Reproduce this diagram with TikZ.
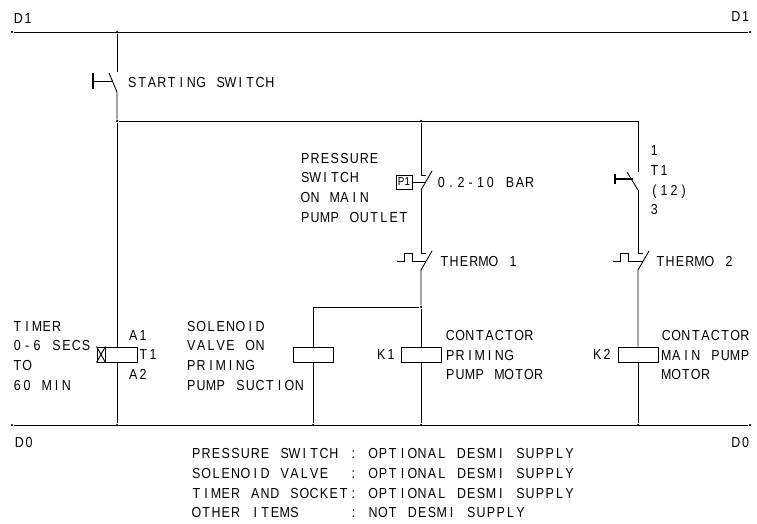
\documentclass[tikz,border=0pt]{standalone}
\usepackage{fontspec}
\setmainfont[FakeStretch=0.86]{Liberation Sans}
% every character sits in a slot of its own, spaces written as ~
\makeatletter
\newcommand{\cad}[1]{\@tfor\cadchar:=#1\do{\makebox[9.82pt]{\cadchar}}}
\makeatother
\begin{document}
\begin{tikzpicture}[x=1pt, y=-1pt, line width=0.9pt, font=\fontsize{14.5}{19.6}\selectfont,
    coil/.style = {draw, rectangle, minimum width=40pt, minimum height=15pt, inner sep=0pt},
    junction/.style = {circle, fill, inner sep=0pt, minimum size=2.5pt},
    label/.style = {anchor=west, align=left, inner sep=0pt, yshift=-0.8pt}]
    \useasboundingbox (0,0) rectangle (757,524);
    % rails
    \node[junction] (d1l) at (12,32) {};
    \node[junction] (d1r) at (750,32) {};
    \node[junction] (d1a) at (117,32) {};
    \node[junction] (d0l) at (12,425) {};
    \node[junction] (d0r) at (750,425) {};
    \node[junction] (d0a) at (117,425) {};
    \node[junction] (d0b) at (313,425) {};
    \node[junction] (d0c) at (421,425) {};
    \node[junction] (d0d) at (638,425) {};
    \node[junction] (top) at (117,121) {};
    \node[junction] (topb) at (421,121) {};
    \coordinate (topc) at (638,121);
    \node[junction] (feed) at (421,307) {};
    \coordinate (feedb) at (313,307);
    \draw (d1l) -- (d1r);
    \draw (d0l) -- (d0r);
    \draw (top) -- (topc);

    % coils
    \node[coil] (t1) at (117,354.5) {};
    \node[coil] (sol) at (313,354.5) {};
    \node[coil] (k1) at (421,354.5) {};
    \node[coil] (k2) at (638,354.5) {};
    \node[draw, rectangle, minimum width=8pt, minimum height=15pt, inner sep=0pt, anchor=west] (t1x) at (t1.west) {};
    \draw (t1x.north west) -- (t1x.south east);
    \draw (t1x.south west) -- (t1x.north east);

    % starting switch
    \coordinate (s1a) at (117,72);
    \coordinate (s1b) at (117,92);
    \coordinate (s1c) at (109,73);
    \coordinate (s1d) at (113,81);
    \coordinate (s1e) at (93,81);
    \draw (d1a) -- (s1a);
    \draw (s1c) -- (s1b) -- (top);
    \draw (s1d) -- (s1e);
    \draw[line width=1.6pt] (93,73) -- (93,89);
    \draw (top) -- (t1);
    \draw (t1) -- (d0a);

    % pressure switch
    \node[draw, rectangle, inner sep=0pt, minimum width=16pt, minimum height=14pt, font=\fontsize{11.5}{11}\selectfont] (p1) at (404,182) {P1};
    \coordinate (p1a) at (421,175);
    \coordinate (p1b) at (421,190);
    \draw (topb) -- (p1a) -- ++(5,0);
    \draw (432,171) -- (p1b);
    \draw (p1) -- (426,182);

    % thermo 1
    \coordinate (th1a) at (421,253);
    \coordinate (th1b) at (421,270);
    \draw (p1b) -- (th1a) -- ++(5,0);
    \draw (432,251) -- (th1b) -- (feed);
    \draw (397,261) -- (404,261) -- (404,253) -- (412,253) -- (412,261) -- (426,261);
    \draw (feed) -- (k1);
    \draw (k1) -- (d0c);
    \draw (feed) -- (feedb) -- (sol);
    \draw (sol) -- (d0b);

    % timer contact
    \coordinate (c2a) at (638,172);
    \coordinate (c2b) at (638,190);
    \draw (topc) -- (c2a);
    \draw (627,172) -- (c2b);
    \draw[line width=1.2pt] (633,179) -- (615,179);
    \draw[line width=1.8pt] (615,174) -- (615,184);

    % thermo 2
    \coordinate (th2a) at (638,253);
    \coordinate (th2b) at (638,270);
    \draw (c2b) -- (th2a) -- ++(5,0);
    \draw (649,251) -- (th2b) -- (k2);
    \draw (613,261) -- (620,261) -- (620,253) -- (628,253) -- (628,261) -- (643,261);
    \draw (k2) -- (d0d);

    % labels
    \node[label] (d1left) at (13,18) {\cad{D1}};
    \node[label, anchor=east] (d1right) at (751,16) {\cad{D1}};
    \node[label] (d0left) at (14,442) {\cad{D0}};
    \node[label, anchor=east] (d0right) at (751,442) {\cad{D0}};
    \node[label] (startlabel) at (127,82) {\cad{STARTING~SWITCH}};
    \node[label] (preslabel) at (300,187) {\cad{PRESSURE}\\\cad{SWITCH}\\\cad{ON~MAIN}\\\cad{PUMP~OUTLET}};
    \node[label] (barlabel) at (436,182) {\cad{0.2-10~BAR}};
    \node[label] (th1label) at (439,261) {\cad{THERMO~1}};
    \node[label] (th2label) at (655,261) {\cad{THERMO~2}};
    \node[label] (contlabel) at (649,179.5) {\cad{1}\\\cad{T1}\\\cad{(12)}\\\cad{3}};
    \node[label] (timerlabel) at (12,355) {\cad{TIMER}\\\cad{0-6~SECS}\\\cad{TO}\\\cad{60~MIN}};
    \node[label] (a1label) at (128,335) {\cad{A1}};
    \node[label] (t1label) at (138,354) {\cad{T1}};
    \node[label] (a2label) at (128,374) {\cad{A2}};
    \node[label] (sollabel) at (186,355) {\cad{SOLENOID}\\\cad{VALVE~ON}\\\cad{PRIMING}\\\cad{PUMP~SUCTION}};
    \node[label] (k1label) at (376,354) {\cad{K1}};
    \node[label] (k2label) at (592,354) {\cad{K2}};
    \node[label] (k1text) at (445,354.5) {\cad{CONTACTOR}\\\cad{PRIMING}\\\cad{PUMP~MOTOR}};
    \node[label] (k2text) at (661,354.5) {\cad{CONTACTOR}\\\cad{MAIN~PUMP}\\\cad{MOTOR}};

    % supply list
    \node[label] (supply) at (191,482.5) {\cad{PRESSURE~SWITCH~:~OPTIONAL~DESMI~SUPPLY}\\\cad{SOLENOID~VALVE~~:~OPTIONAL~DESMI~SUPPLY}\\\cad{TIMER~AND~SOCKET:~OPTIONAL~DESMI~SUPPLY}\\\cad{OTHER~ITEMS~~~~~:~NOT~DESMI~SUPPLY}};
\end{tikzpicture}
\end{document}
